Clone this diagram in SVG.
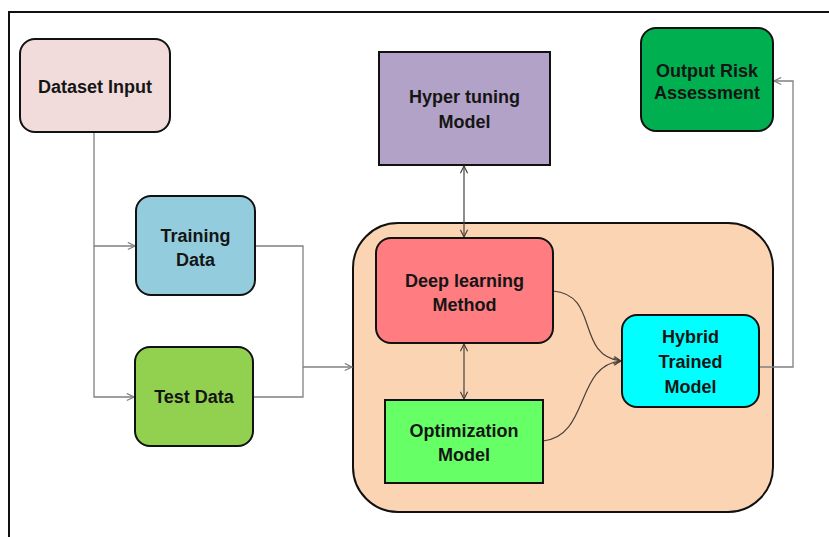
<svg xmlns="http://www.w3.org/2000/svg" width="829" height="537" viewBox="0 0 829 537">
<defs>
<style>
.node{stroke:#111;stroke-width:2}
.t{font-family:"Liberation Sans",Arial,sans-serif;font-weight:bold;font-size:18px;fill:#151515;text-anchor:middle}
.c{fill:none;stroke:#808080;stroke-width:1.3}
.ci{fill:none;stroke:#4a4038;stroke-width:1.2}
</style>
<marker id="ag" viewBox="0 0 10 10" refX="9" refY="5" markerWidth="9" markerHeight="9" orient="auto-start-reverse" markerUnits="userSpaceOnUse">
<path d="M1,1 L9,5 L1,9" fill="none" stroke="#808080" stroke-width="1.3"/>
</marker>
<marker id="ad" viewBox="0 0 10 10" refX="9" refY="5" markerWidth="9" markerHeight="9" orient="auto-start-reverse" markerUnits="userSpaceOnUse">
<path d="M1,1 L9,5 L1,9" fill="none" stroke="#4a4038" stroke-width="1.3"/>
</marker>
</defs>
<rect x="0" y="0" width="829" height="537" fill="#fff"/>
<path d="M9,537 L9,12 L829,12" fill="none" stroke="#111" stroke-width="2"/>

<g id="container">
<rect x="353" y="223" width="420" height="289" rx="45" fill="#fbd4b4" class="node"/>
</g>

<g id="connectors">
<path class="c" d="M94,132 V246 H135" marker-end="url(#ag)"/>
<path class="c" d="M94,246 V397 H134" marker-end="url(#ag)"/>
<path class="c" d="M255,246 H303 V397 H253"/>
<path class="c" d="M303,367 H352" marker-end="url(#ag)"/>
<path class="ci" d="M464,166 V237" marker-start="url(#ad)" marker-end="url(#ad)"/>
<path class="ci" d="M464,344 V399" marker-start="url(#ad)" marker-end="url(#ad)"/>
<path class="ci" d="M553,291 C600,295 575,355 621,361" marker-end="url(#ad)"/>
<path class="ci" d="M543,441 C590,436 575,365 621,361" marker-end="url(#ad)"/>
<path class="c" d="M759,367 H793 V81 H774" marker-end="url(#ag)"/>
</g>

<g id="dataset">
<rect x="20" y="39" width="150" height="93" rx="15" fill="#f2dcdb" class="node"/>
<text class="t" x="95" y="93">Dataset Input</text>
</g>
<g id="training">
<rect x="136" y="196" width="119" height="99" rx="15" fill="#93cddd" class="node"/>
<text class="t" x="195.5" y="242">Training</text>
<text class="t" x="195.5" y="266">Data</text>
</g>
<g id="test">
<rect x="135" y="347" width="118" height="99" rx="15" fill="#92d050" class="node"/>
<text class="t" x="194" y="403">Test Data</text>
</g>
<g id="hyper">
<rect x="379" y="52" width="171" height="113" fill="#b3a2c7" class="node"/>
<text class="t" x="464.5" y="103">Hyper tuning</text>
<text class="t" x="464.5" y="128">Model</text>
</g>
<g id="output">
<rect x="641" y="28" width="132" height="103" rx="15" fill="#00b050" class="node"/>
<text class="t" x="707" y="77">Output Risk</text>
<text class="t" x="707" y="99">Assessment</text>
</g>
<g id="deep">
<rect x="376" y="238" width="177" height="105" rx="15" fill="#ff7c80" class="node"/>
<text class="t" x="464.5" y="287">Deep learning</text>
<text class="t" x="464.5" y="311">Method</text>
</g>
<g id="optimization">
<rect x="385" y="400" width="158" height="83" fill="#66ff66" class="node"/>
<text class="t" x="464" y="437">Optimization</text>
<text class="t" x="464" y="461">Model</text>
</g>
<g id="hybrid">
<rect x="622" y="315" width="137" height="92" rx="15" fill="#00ffff" class="node"/>
<text class="t" x="690.5" y="343">Hybrid</text>
<text class="t" x="690.5" y="368">Trained</text>
<text class="t" x="690.5" y="393">Model</text>
</g>
</svg>
